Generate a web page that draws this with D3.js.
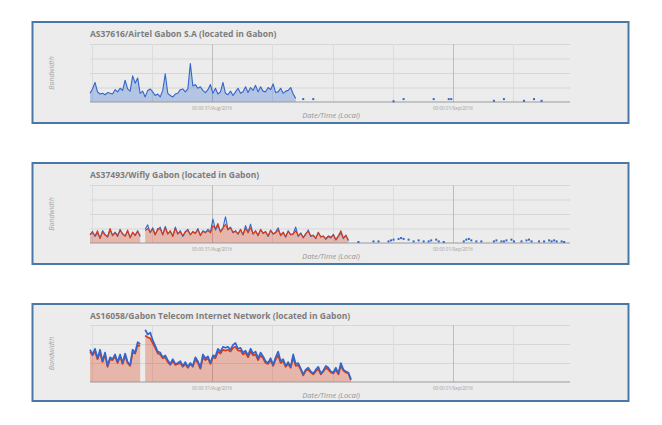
<!DOCTYPE html>
<html>
<head>
<meta charset="utf-8">
<script src="https://cdn.jsdelivr.net/npm/d3@7"></script>
<style>
  body { margin: 0; background: #fff; }
  svg { display: block; font-family: "Open Sans", sans-serif; }
</style>
</head>
<body>
<svg id="chart"></svg>
<script>
const width = 662;
const height = 425;

// one value every 15 minutes, starting 11:50 30/Aug/2016
const startTime = new Date(2016, 7, 30, 11, 50);
const endTime = new Date(2016, 8, 1, 11, 40);
const stepMinutes = 15;

const titles = [
    "AS37616/Airtel Gabon S.A (located in Gabon)",
    "AS37493/Wifly Gabon (located in Gabon)",
    "AS16058/Gabon Telecom Internet Network (located in Gabon)"
];
const yLabel = "Bandwidth";
const xLabel = "Date/Time (Local)";
const yTicksSmall = [1, 2, 3, 4];
const yTicksLarge = [1, 2, 3];

// Airtel - blue only
const airtelBlue = [
    0.60, 0.90, 1.35, 0.70, 0.55, 0.60, 0.50, 0.65, 0.60, 0.55,
    0.85, 0.70, 0.95, 0.80, 1.50, 0.90, 0.75, 1.80, 1.30, 1.65,
    0.60, 0.75, 0.35, 0.80, 0.90, 0.70, 0.45, 0.55, 0.35, 0.80,
    1.95, 0.60, 0.45, 0.35, 0.55, 0.60, 0.85, 0.90, 0.70, 0.90,
    2.65, 1.10, 1.20, 0.95, 1.05, 0.80, 0.65, 0.85, 1.20, 0.60,
    0.95, 0.55, 0.70, 1.35, 0.60, 0.50, 0.75, 0.45, 0.70, 0.95,
    0.60, 0.70, 1.05, 0.65, 1.00, 0.80, 1.15, 0.70, 1.05, 0.75,
    0.70, 1.00, 0.85, 1.25, 0.65, 0.70, 0.95, 0.60, 0.75, 0.80,
    1.00, 0.55, 0.25
];
const airtelDotIdx = [85, 89, 121, 125, 137, 143, 144, 161, 165, 173, 177, 180];
const airtelDotVal = [0.20, 0.20, 0.05, 0.20, 0.20, 0.20, 0.20, 0.08, 0.20, 0.08, 0.20, 0.08];

// Wifly - blue and red
const wiflyBlue = [
    0.55, 0.80, 0.45, 0.70, 0.35, 0.85, 0.60, 0.40, 0.90, 0.55,
    0.75, 0.45, 0.95, 0.60, 0.50, 0.80, 0.40, 0.70, 0.55, 0.85,
    0.45, null, 0.95, 1.25, 0.70, 1.05, 0.60, 0.90, 1.10, 0.55,
    1.15, 0.65, 0.80, 0.50, 1.10, 0.60, 0.85, 0.45, 0.75, 0.95,
    0.55, 0.80, 0.65, 1.00, 0.50, 0.85, 0.70, 0.95, 0.75, 1.65,
    0.90, 1.20, 0.80, 1.05, 1.80, 0.95, 1.10, 0.70, 0.85, 0.60,
    0.95, 0.55, 1.20, 0.75, 1.30, 0.60, 0.85, 0.50, 0.95, 0.65,
    0.80, 0.45, 0.90, 0.60, 0.75, 1.05, 0.50, 0.70, 0.40, 0.85,
    0.55, 0.65, 1.10, 0.45, 0.70, 0.35, 0.60, 0.90, 0.45, 0.55,
    0.30, 0.75, 0.40, 0.50, 0.25, 0.45, 0.35, 0.60, 0.20, 0.45,
    0.70, 0.30, 0.55, 0.15
];
const wiflyRed = [
    0.60, 0.70, 0.50, 0.85, 0.30, 0.75, 0.55, 0.45, 1.00, 0.50,
    0.70, 0.55, 0.85, 0.65, 0.45, 0.90, 0.35, 0.75, 0.50, 0.80,
    0.50, null, 0.85, 1.00, 0.75, 0.95, 0.55, 1.00, 0.95, 0.60,
    1.05, 0.60, 0.85, 0.45, 1.00, 0.65, 0.75, 0.50, 0.80, 0.85,
    0.60, 0.75, 0.70, 0.90, 0.55, 0.80, 0.75, 0.85, 0.70, 1.20,
    1.00, 1.35, 0.75, 1.00, 1.30, 0.90, 1.05, 0.75, 0.80, 0.65,
    0.90, 0.60, 1.00, 0.70, 1.05, 0.65, 0.80, 0.55, 0.90, 0.70,
    0.75, 0.50, 0.85, 0.65, 0.70, 0.90, 0.55, 0.75, 0.45, 0.80,
    0.60, 0.60, 0.85, 0.50, 0.65, 0.40, 0.65, 0.80, 0.50, 0.50,
    0.35, 0.70, 0.45, 0.45, 0.30, 0.50, 0.40, 0.55, 0.25, 0.50,
    0.85, 0.35, 0.50, 0.20
];
const wiflyDotIdx = [
    107, 113, 115, 119, 120, 121, 123, 124, 125, 127,
    129, 131, 133, 135, 136, 138, 139, 141, 149, 150,
    151, 152, 154, 156, 161, 162, 164, 165, 166, 168,
    169, 172, 174, 175, 176, 179, 181, 183, 184, 185,
    186, 188, 189
];
const wiflyDotVal = [
    0.07, 0.11, 0.11, 0.11, 0.18, 0.23, 0.28, 0.34, 0.28, 0.23,
    0.11, 0.18, 0.11, 0.11, 0.18, 0.23, 0.11, 0.07, 0.11, 0.23,
    0.28, 0.18, 0.11, 0.11, 0.11, 0.18, 0.11, 0.11, 0.18, 0.23,
    0.11, 0.11, 0.18, 0.23, 0.11, 0.11, 0.11, 0.18, 0.11, 0.18,
    0.11, 0.11, 0.07
];

// Gabon Telecom - blue and red
const telecomBlue = [
    1.70, 1.45, 1.75, 1.25, 1.70, 1.10, 1.55, 0.85, 1.30, 1.20,
    1.45, 1.05, 1.45, 1.00, 1.50, 1.05, 0.90, 1.70, 1.55, 2.10,
    2.00, null, 2.75, 2.50, 2.60, 2.20, 1.90, 1.60, 1.55, 1.30,
    1.40, 1.15, 0.95, 1.20, 0.95, 1.00, 1.10, 0.85, 1.05, 0.80,
    1.00, 0.85, 1.30, 1.10, 0.75, 1.45, 1.25, 1.35, 1.00, 1.40,
    1.35, 1.75, 1.60, 1.85, 1.80, 1.85, 1.70, 1.95, 2.05, 1.75,
    1.80, 1.55, 1.65, 1.40, 1.75, 1.50, 1.60, 1.25, 1.55, 1.35,
    1.10, 1.00, 1.25, 0.90, 1.30, 1.60, 1.10, 1.20, 0.85, 1.05,
    0.80, 1.45, 0.95, 1.00, 0.70, 0.40, 0.65, 0.75, 0.55, 0.45,
    0.65, 0.80, 0.45, 0.60, 0.85, 0.75, 0.55, 0.50, 0.75, 0.45,
    1.00, 0.65, 0.55, 0.50, 0.15
];
const telecomRed = [
    1.60, 1.40, 1.60, 1.20, 1.55, 1.05, 1.45, 0.80, 1.20, 1.15,
    1.35, 1.00, 1.35, 0.95, 1.40, 1.00, 0.85, 1.55, 1.50, 1.95,
    1.90, null, 2.45, 2.35, 2.30, 2.05, 1.80, 1.50, 1.45, 1.25,
    1.30, 1.05, 0.90, 1.10, 0.90, 0.95, 1.00, 0.80, 0.95, 0.75,
    0.95, 0.80, 1.20, 1.00, 0.70, 1.30, 1.15, 1.25, 0.95, 1.30,
    1.25, 1.60, 1.50, 1.70, 1.65, 1.70, 1.60, 1.80, 1.85, 1.65,
    1.65, 1.45, 1.55, 1.30, 1.60, 1.40, 1.45, 1.15, 1.40, 1.25,
    1.00, 0.95, 1.15, 0.85, 1.20, 1.40, 1.00, 1.10, 0.80, 0.95,
    0.75, 1.30, 0.85, 0.90, 0.65, 0.35, 0.60, 0.65, 0.50, 0.40,
    0.55, 0.70, 0.40, 0.55, 0.75, 0.65, 0.50, 0.45, 0.65, 0.40,
    0.85, 0.60, 0.50, 0.45, 0.10
];

const blue = "#3366cc";
const red = "#dc3912";

const panels = [
    { title: titles[0], top: 22, bottom: 123, plotTop: 44, plotBottom: 102, yTicks: yTicksSmall,
      blue: airtelBlue, red: null, dotIdx: airtelDotIdx, dotVal: airtelDotVal, lineW: 1.1, blueOnTop: true },
    { title: titles[1], top: 163, bottom: 264, plotTop: 185, plotBottom: 243, yTicks: yTicksSmall,
      blue: wiflyBlue, red: wiflyRed, dotIdx: wiflyDotIdx, dotVal: wiflyDotVal, lineW: 1.1, blueOnTop: false },
    { title: titles[2], top: 304, bottom: 401, plotTop: 325, plotBottom: 382, yTicks: yTicksLarge,
      blue: telecomBlue, red: telecomRed, dotIdx: [], dotVal: [], lineW: 1.7, blueOnTop: true }
];

const svg = d3.select("#chart")
    .attr("width", width)
    .attr("height", height);

const x = d3.scaleTime()
    .domain([startTime, endTime])
    .range([90, 570]);

const timeAt = i => new Date(startTime.getTime() + i * stepMinutes * 60000);
const fmt = d3.timeFormat("%H:%M %d/%b/%Y");

panels.forEach(drawPanel);

function drawPanel(p) {
    const g = svg.append("g");

    g.append("rect")
        .attr("x", 32.5)
        .attr("y", p.top)
        .attr("width", 596)
        .attr("height", p.bottom - p.top)
        .attr("fill", "#ececec")
        .attr("stroke", "#4a78a6")
        .attr("stroke-width", 2);

    const y = d3.scaleLinear()
        .domain([0, d3.max(p.yTicks)])
        .range([p.plotBottom, p.plotTop]);

    // grid
    g.selectAll(".hgrid")
        .data(p.yTicks)
        .enter().append("line")
        .attr("x1", x.range()[0]).attr("x2", x.range()[1])
        .attr("y1", d => y(d) + 0.5).attr("y2", d => y(d) + 0.5)
        .attr("stroke", "#d6d6d6");

    const vTimes = d3.timeHour.every(6).range(startTime, endTime);
    g.selectAll(".vgrid")
        .data(vTimes)
        .enter().append("line")
        .attr("x1", d => Math.round(x(d)) + 0.5).attr("x2", d => Math.round(x(d)) + 0.5)
        .attr("y1", p.plotTop).attr("y2", p.plotBottom)
        .attr("stroke", d => d.getHours() === 0 ? "#bdbdbd" : "#dcdcdc");

    g.selectAll(".xtick")
        .data(d3.timeDay.range(startTime, endTime))
        .enter().append("text")
        .attr("x", d => x(d))
        .attr("y", p.plotBottom + 7.5)
        .attr("text-anchor", "middle")
        .attr("font-size", "4.6px")
        .attr("fill", "#a0a0a0")
        .text(d => fmt(d));

    // series
    const area = vals => d3.area()
        .defined(d => d != null)
        .x((d, i) => x(timeAt(i)))
        .y0(y(0))
        .y1(d => y(d))(vals);
    const line = vals => d3.line()
        .defined(d => d != null)
        .x((d, i) => x(timeAt(i)))
        .y(d => y(d))(vals);

    if (p.red) {
        g.append("path").attr("d", area(p.red))
            .attr("fill", red).attr("fill-opacity", 0.3);
    } else {
        g.append("path").attr("d", area(p.blue))
            .attr("fill", blue).attr("fill-opacity", 0.3);
    }

    // baseline
    g.append("line")
        .attr("x1", x.range()[0]).attr("x2", x.range()[1])
        .attr("y1", p.plotBottom).attr("y2", p.plotBottom)
        .attr("stroke", "#9a9a9a")
        .attr("stroke-width", 1.2);

    const order = [];
    if (p.red) order.push({ vals: p.red, color: red });
    if (p.blueOnTop) order.push({ vals: p.blue, color: blue });
    else order.unshift({ vals: p.blue, color: blue });

    order.forEach(s => {
        g.append("path").attr("d", line(s.vals))
            .attr("fill", "none").attr("stroke", s.color)
            .attr("stroke-width", p.lineW).attr("stroke-linejoin", "round");
    });

    // scattered later readings
    g.selectAll(".dot")
        .data(p.dotIdx)
        .enter().append("rect")
        .attr("x", d => x(timeAt(d)) - 1)
        .attr("y", (d, i) => y(p.dotVal[i]) - 1)
        .attr("width", 2)
        .attr("height", 2)
        .attr("fill", blue);

    // texts
    g.append("text")
        .attr("x", 90)
        .attr("y", p.top + 15)
        .attr("font-size", "8.5px")
        .attr("font-weight", "bold")
        .attr("fill", "#7d7d7d")
        .text(p.title);

    g.append("text")
        .attr("transform", `translate(54,${(p.plotTop + p.plotBottom) / 2}) rotate(-90)`)
        .attr("text-anchor", "middle")
        .attr("font-size", "7px")
        .attr("font-style", "italic")
        .attr("fill", "#a5a5a5")
        .text(yLabel);

    g.append("text")
        .attr("x", 331)
        .attr("y", p.plotBottom + 16)
        .attr("text-anchor", "middle")
        .attr("font-size", "7.5px")
        .attr("font-style", "italic")
        .attr("fill", "#959595")
        .text(xLabel);
}
</script>
</body>
</html>
